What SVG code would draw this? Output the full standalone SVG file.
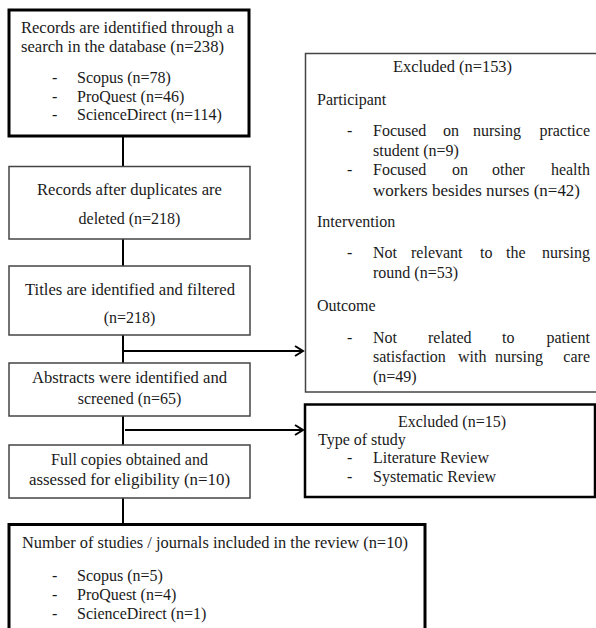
<svg xmlns="http://www.w3.org/2000/svg" width="596" height="628" viewBox="0 0 596 628">
<style>
text{font-family:"Liberation Serif","Times New Roman",serif;font-size:16px;fill:#1a1a1a}
.c{text-anchor:middle}
.e{text-anchor:end}
.thick{fill:#fff;stroke:#000;stroke-width:3}
.thin{fill:#fff;stroke:#444;stroke-width:1.5}
.bold2{fill:#fff;stroke:#000;stroke-width:2.5}
.ln{stroke:#000;stroke-width:2;fill:none}
</style>
<defs>
<marker id="arr" markerWidth="12" markerHeight="12" refX="10" refY="6" orient="auto" markerUnits="userSpaceOnUse">
<path d="M2,1 L10,6 L2,11" fill="none" stroke="#000" stroke-width="2"/>
</marker>
</defs>
<rect width="596" height="628" fill="#fff"/>
<g id="connectors">
<line class="ln" x1="123" y1="136" x2="123" y2="166"/>
<line class="ln" x1="123" y1="239" x2="123" y2="266"/>
<line class="ln" x1="123" y1="335" x2="123" y2="363"/>
<line class="ln" x1="123" y1="351" x2="303" y2="351" marker-end="url(#arr)"/>
<line class="ln" x1="123" y1="416" x2="123" y2="445"/>
<line class="ln" x1="125" y1="430" x2="303" y2="430" marker-end="url(#arr)"/>
<line class="ln" x1="123" y1="498" x2="123" y2="524"/>
</g>
<g id="n1">
<rect class="thick" x="9" y="10" width="240" height="126"/>
<text x="21" y="33" textLength="213" lengthAdjust="spacingAndGlyphs">Records are identified through a</text>
<text x="21" y="52" textLength="203" lengthAdjust="spacingAndGlyphs">search in the database (n=238)</text>
<text x="52" y="83">-</text><text x="77" y="83">Scopus (n=78)</text>
<text x="52" y="101.5">-</text><text x="77" y="101.5">ProQuest (n=46)</text>
<text x="52" y="120">-</text><text x="77" y="120">ScienceDirect (n=114)</text>
</g>
<g id="n2">
<rect class="thin" x="9" y="166.5" width="241" height="72.5"/>
<text class="c" x="129.5" y="195" textLength="185" lengthAdjust="spacingAndGlyphs">Records after duplicates are</text>
<text class="c" x="129.5" y="224">deleted (n=218)</text>
</g>
<g id="n3">
<rect class="thin" x="9" y="266" width="241" height="69"/>
<text class="c" x="130" y="295" textLength="210" lengthAdjust="spacingAndGlyphs">Titles are identified and filtered</text>
<text class="c" x="129.5" y="323">(n=218)</text>
</g>
<g id="n4">
<rect class="thin" x="9" y="363" width="241" height="53"/>
<text class="c" x="129.5" y="383" textLength="195" lengthAdjust="spacingAndGlyphs">Abstracts were identified and</text>
<text class="c" x="129.5" y="404">screened (n=65)</text>
</g>
<g id="n5">
<rect class="thin" x="9" y="445" width="241" height="53"/>
<text class="c" x="129.5" y="465">Full copies obtained and</text>
<text class="c" x="129.5" y="485" textLength="201" lengthAdjust="spacingAndGlyphs">assessed for eligibility (n=10)</text>
</g>
<g id="n6">
<rect class="thick" x="9" y="524.5" width="416" height="110"/>
<text x="22" y="548" textLength="386" lengthAdjust="spacingAndGlyphs">Number of studies / journals included in the review (n=10)</text>
<text x="52" y="581">-</text><text x="77" y="581">Scopus (n=5)</text>
<text x="52" y="600">-</text><text x="77" y="600">ProQuest (n=4)</text>
<text x="52" y="619">-</text><text x="77" y="619">ScienceDirect (n=1)</text>
</g>
<g id="excluded153">
<rect class="thin" x="305.5" y="53.5" width="300" height="338.5"/>
<text class="c" x="452.5" y="72" textLength="119" lengthAdjust="spacingAndGlyphs">Excluded (n=153)</text>
<text x="317" y="105">Participant</text>
<text x="347" y="136">-</text>
<text x="373" y="136">Focused</text><text x="443" y="136">on</text><text x="473" y="136">nursing</text><text class="e" x="590" y="136">practice</text>
<text x="373" y="156">student (n=9)</text>
<text x="347" y="175">-</text>
<text x="373" y="175">Focused</text><text x="452" y="175">on</text><text x="492" y="175">other</text><text class="e" x="590" y="175">health</text>
<text x="373" y="196" textLength="207" lengthAdjust="spacingAndGlyphs">workers besides nurses (n=42)</text>
<text x="317" y="227">Intervention</text>
<text x="347" y="258">-</text>
<text x="373" y="258">Not</text><text x="411" y="258">relevant</text><text x="480" y="258">to</text><text x="506" y="258">the</text><text class="e" x="590" y="258">nursing</text>
<text x="373" y="278">round (n=53)</text>
<text x="317" y="311">Outcome</text>
<text x="347" y="343">-</text>
<text x="373" y="343">Not</text><text x="428" y="343">related</text><text x="502" y="343">to</text><text class="e" x="590" y="343">patient</text>
<text x="373" y="362">satisfaction</text><text x="458" y="362">with</text><text x="495" y="362">nursing</text><text class="e" x="590" y="362">care</text>
<text x="373" y="382">(n=49)</text>
</g>
<g id="excluded15">
<rect class="bold2" x="305" y="404.5" width="290" height="92.5"/>
<text class="c" x="452" y="427">Excluded (n=15)</text>
<text x="318" y="445">Type of study</text>
<text x="347" y="463">-</text><text x="373" y="463">Literature Review</text>
<text x="347" y="482">-</text><text x="373" y="482">Systematic Review</text>
</g>
</svg>
